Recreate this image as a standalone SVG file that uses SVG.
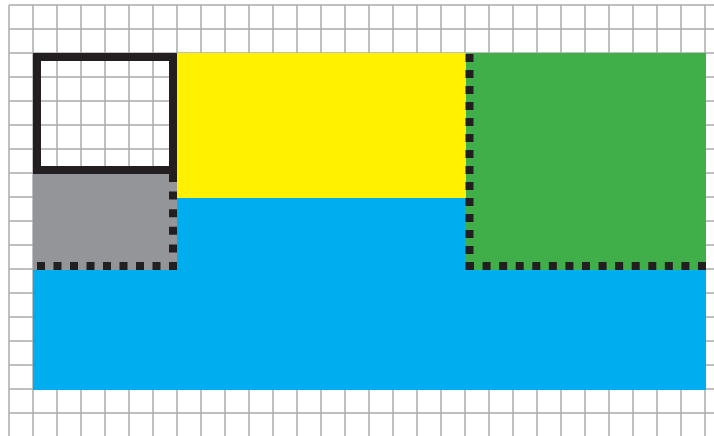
<svg xmlns="http://www.w3.org/2000/svg" width="714" height="436" viewBox="0 0 714 436">
  <defs>
    <style>
      .grid line { stroke: #a9abae; stroke-width: 1.5; }
      .dots { stroke: #231f20; stroke-width: 8; fill: none; }
    </style>
  </defs>
  <rect width="714" height="436" fill="#ffffff"/>
  <g id="grid" class="grid">
    <line x1="9" y1="5" x2="9" y2="436"/><line x1="33" y1="5" x2="33" y2="436"/><line x1="57" y1="5" x2="57" y2="436"/><line x1="81" y1="5" x2="81" y2="436"/><line x1="105" y1="5" x2="105" y2="436"/><line x1="129" y1="5" x2="129" y2="436"/><line x1="153" y1="5" x2="153" y2="436"/><line x1="177" y1="5" x2="177" y2="436"/><line x1="201" y1="5" x2="201" y2="436"/><line x1="225" y1="5" x2="225" y2="436"/><line x1="249" y1="5" x2="249" y2="436"/><line x1="273" y1="5" x2="273" y2="436"/><line x1="297" y1="5" x2="297" y2="436"/><line x1="321" y1="5" x2="321" y2="436"/><line x1="345" y1="5" x2="345" y2="436"/><line x1="369" y1="5" x2="369" y2="436"/><line x1="393" y1="5" x2="393" y2="436"/><line x1="417" y1="5" x2="417" y2="436"/><line x1="441" y1="5" x2="441" y2="436"/><line x1="465" y1="5" x2="465" y2="436"/><line x1="489" y1="5" x2="489" y2="436"/><line x1="513" y1="5" x2="513" y2="436"/><line x1="537" y1="5" x2="537" y2="436"/><line x1="561" y1="5" x2="561" y2="436"/><line x1="585" y1="5" x2="585" y2="436"/><line x1="609" y1="5" x2="609" y2="436"/><line x1="633" y1="5" x2="633" y2="436"/><line x1="657" y1="5" x2="657" y2="436"/><line x1="681" y1="5" x2="681" y2="436"/><line x1="705" y1="5" x2="705" y2="436"/>
    <line x1="9" y1="5" x2="714" y2="5"/><line x1="9" y1="29" x2="714" y2="29"/><line x1="9" y1="53" x2="714" y2="53"/><line x1="9" y1="77" x2="714" y2="77"/><line x1="9" y1="101" x2="714" y2="101"/><line x1="9" y1="125" x2="714" y2="125"/><line x1="9" y1="149" x2="714" y2="149"/><line x1="9" y1="173" x2="714" y2="173"/><line x1="9" y1="197" x2="714" y2="197"/><line x1="9" y1="221" x2="714" y2="221"/><line x1="9" y1="245" x2="714" y2="245"/><line x1="9" y1="269" x2="714" y2="269"/><line x1="9" y1="293" x2="714" y2="293"/><line x1="9" y1="317" x2="714" y2="317"/><line x1="9" y1="341" x2="714" y2="341"/><line x1="9" y1="365" x2="714" y2="365"/><line x1="9" y1="389" x2="714" y2="389"/><line x1="9" y1="413" x2="714" y2="413"/>
  </g>
  <g id="blue">
    <path d="M177 198 H466 V270 H706 V390 H33 V270 H177 Z" fill="#00adee"/>
  </g>
  <g id="yellow">
    <rect x="177" y="53" width="289" height="145" fill="#fff100"/>
  </g>
  <g id="green">
    <rect x="466" y="53" width="240" height="217" fill="#40ae49"/>
  </g>
  <g id="gray">
    <rect x="33" y="174" width="144" height="96" fill="#939598"/>
  </g>
  <g id="outlined">
    <rect x="37" y="57" width="136" height="113" fill="none" stroke="#231f20" stroke-width="8"/>
  </g>
  <g id="connectors">
    <line class="dots" x1="173" y1="174" x2="173" y2="270" stroke-dasharray="8 9.6"/>
    <line class="dots" x1="37" y1="266" x2="177" y2="266" stroke-dasharray="8 8.5"/>
    <line class="dots" x1="469.5" y1="54" x2="469.5" y2="270" stroke-dasharray="8 8"/>
    <line class="dots" x1="466" y1="266" x2="706" y2="266" stroke-dasharray="8 8.571"/>
  </g>
</svg>
